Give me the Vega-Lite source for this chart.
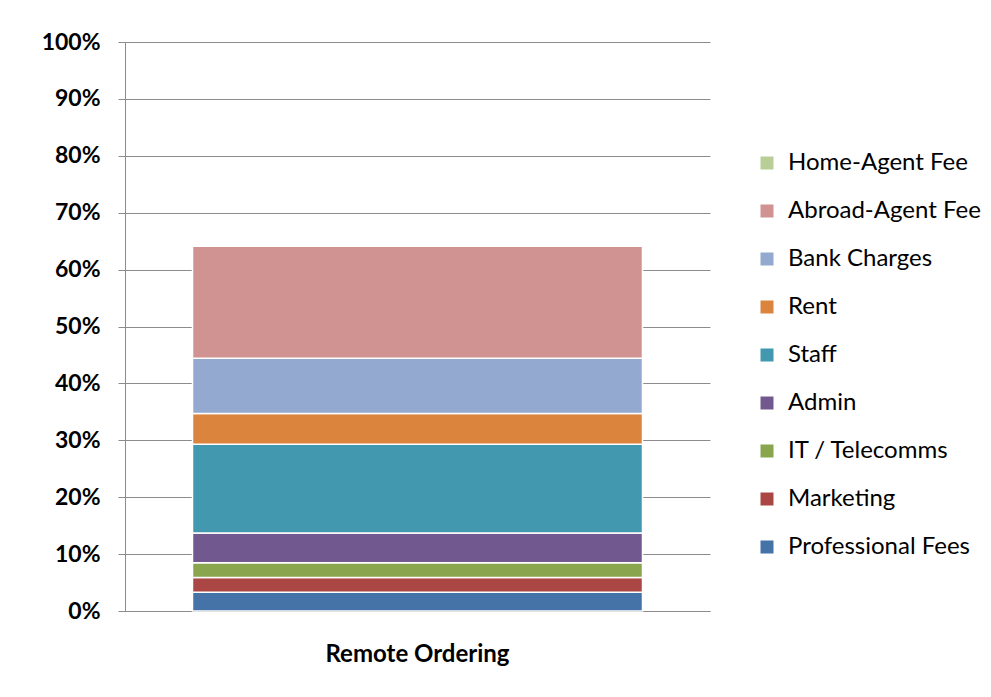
{
  "$schema": "https://vega.github.io/schema/vega-lite/v6.json",
  "autosize": {"type": "none"},
  "padding": {"left": 125, "top": 42, "right": 281, "bottom": 86},
  "width": 585,
  "height": 569,
  "background": "white",
  "config": {
    "font": "Lato",
    "view": {"stroke": null},
    "axis": {"labelColor": "#000000", "domainColor": "#8c8c8c", "tickColor": "#8c8c8c", "gridColor": "#8c8c8c"}
  },
  "data": {
    "values": [
      {"category": "Remote Ordering", "cost": "Professional Fees", "share": 0.033, "rank": 1},
      {"category": "Remote Ordering", "cost": "Marketing", "share": 0.026, "rank": 2},
      {"category": "Remote Ordering", "cost": "IT / Telecomms", "share": 0.026, "rank": 3},
      {"category": "Remote Ordering", "cost": "Admin", "share": 0.052, "rank": 4},
      {"category": "Remote Ordering", "cost": "Staff", "share": 0.156, "rank": 5},
      {"category": "Remote Ordering", "cost": "Rent", "share": 0.054, "rank": 6},
      {"category": "Remote Ordering", "cost": "Bank Charges", "share": 0.097, "rank": 7},
      {"category": "Remote Ordering", "cost": "Abroad-Agent Fee", "share": 0.197, "rank": 8},
      {"category": "Remote Ordering", "cost": "Home-Agent Fee", "share": 0.0, "rank": 9}
    ]
  },
  "mark": {"type": "bar", "stroke": "white", "strokeWidth": 1.5},
  "encoding": {
    "x": {
      "field": "category", "type": "nominal",
      "scale": {"paddingInner": 0, "paddingOuter": 0.15},
      "axis": {"title": null, "labelAngle": 0, "ticks": false, "labelFontSize": 24, "labelFontWeight": "bold", "labelPadding": 31, "labelLimit": 500, "domainWidth": 1}
    },
    "y": {
      "field": "share", "type": "quantitative", "stack": "zero",
      "scale": {"domain": [0, 1], "nice": false},
      "axis": {"title": null, "format": ".0%", "values": [0, 0.1, 0.2, 0.3, 0.4, 0.5, 0.6, 0.7, 0.8, 0.9, 1], "labelFontSize": 23, "labelFontWeight": "bold", "tickSize": 7, "labelPadding": 18, "grid": true, "domainWidth": 1}
    },
    "order": {"field": "rank", "type": "quantitative", "sort": "ascending"},
    "color": {
      "field": "cost", "type": "nominal",
      "scale": {
        "domain": ["Home-Agent Fee", "Abroad-Agent Fee", "Bank Charges", "Rent", "Staff", "Admin", "IT / Telecomms", "Marketing", "Professional Fees"],
        "range": ["#B9CD96", "#D19392", "#93A9CF", "#DB843D", "#4198AF", "#71588F", "#89A54E", "#AA4643", "#4572A7"]
      },
      "legend": {
        "title": null, "orient": "none", "legendX": 630, "legendY": 109,
        "symbolType": "square", "symbolSize": 169, "symbolStrokeWidth": 0,
        "labelFontSize": 24, "labelColor": "#000000", "labelOffset": 9,
        "rowPadding": 24, "padding": 0, "labelLimit": 300
      }
    }
  }
}
